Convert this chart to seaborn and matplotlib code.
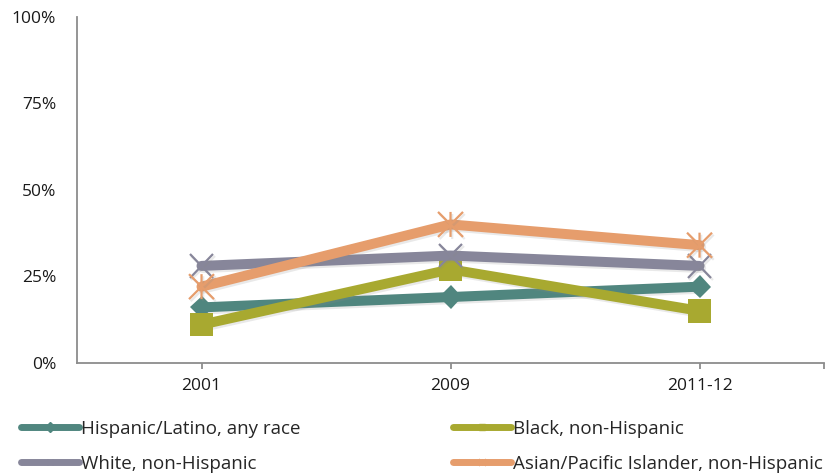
import matplotlib
matplotlib.use("Agg")
import matplotlib.pyplot as plt
import matplotlib.patheffects as pe
from matplotlib.path import Path
from matplotlib.lines import Line2D
import seaborn as sns
import pandas as pd

# Data
years = ["2001", "2009", "2011-12"]
hispanic = [16, 19, 22]
black = [11, 27, 15]
white = [28, 31, 28]
asian = [22, 40, 34]
series_names = [
    "Hispanic/Latino, any race",
    "Black, non-Hispanic",
    "White, non-Hispanic",
    "Asian/Pacific Islander, non-Hispanic",
]
y_ticks = [0, 25, 50, 75, 100]

colors = ["#50867F", "#A8A930", "#87869A", "#E69D6C"]

# Star marker: an X with a vertical bar through it
star_path = Path(
    [(-1, -1), (1, 1), (-1, 1), (1, -1), (0, -1), (0, 1)],
    [Path.MOVETO, Path.LINETO, Path.MOVETO, Path.LINETO, Path.MOVETO, Path.LINETO],
)

marker_specs = [
    dict(marker="D", markersize=12, markeredgewidth=0),
    dict(marker="s", markersize=17, markeredgewidth=0),
    dict(marker="x", markersize=17, markeredgewidth=1.6),
    dict(marker=star_path, markersize=18, markeredgewidth=1.6),
]

sns.set_theme(style="white")
plt.rcParams["font.family"] = ["Open Sans", "DejaVu Sans"]

df = pd.DataFrame({
    "year": years * 4,
    "value": hispanic + black + white + asian,
    "group": sum([[n] * len(years) for n in series_names], []),
})

fig = plt.figure(figsize=(8.29, 4.75), dpi=100)
ax = fig.add_axes([0.0929, 0.2364, 0.9011, 0.7278])

shadow = [pe.SimpleLineShadow(offset=(1.2, -1.5), shadow_color="#888888", alpha=0.18), pe.Normal()]

for name, color, spec in zip(series_names, colors, marker_specs):
    sub = df[df["group"] == name]
    sns.lineplot(data=sub, x="year", y="value", ax=ax, color=color,
                 linewidth=7.2, legend=False, sort=False)
    line = ax.lines[-1]
    line.set_marker(spec["marker"])
    line.set_markersize(spec["markersize"])
    line.set_markeredgewidth(spec["markeredgewidth"])
    line.set_markerfacecolor(color)
    line.set_markeredgecolor(color)
    line.set_path_effects(shadow)

ax.set_xlim(-0.5, 2.5)
ax.set_ylim(0, 100)
ax.set_yticks(y_ticks)
ax.set_yticklabels([f"{t}%" for t in y_ticks], fontsize=12.5, color="#1a1a1a")
ax.set_xticks(range(len(years)))
ax.set_xticklabels(years, fontsize=12.5, color="#1a1a1a")
ax.set_xticks([2.5], minor=True)
ax.set_xlabel("")
ax.set_ylabel("")

for side in ["top", "right"]:
    ax.spines[side].set_visible(False)
for side in ["left", "bottom"]:
    ax.spines[side].set_color("#8C8C8C")
    ax.spines[side].set_linewidth(1.3)

ax.tick_params(axis="y", length=0, pad=15)
ax.tick_params(axis="x", which="both", direction="out", length=4, width=1.3,
               color="#8C8C8C", bottom=True, pad=7)


def legend_handle(color, spec):
    return Line2D([], [], color=color, linewidth=5, solid_capstyle="round",
                  marker=spec["marker"], markersize=5, markeredgewidth=1,
                  markerfacecolor=color, markeredgecolor=color)


legend_kw = dict(loc="center left", frameon=False, handlelength=3.1, handletextpad=0.1,
                 fontsize=13.5, borderaxespad=0, borderpad=0)

# Legend laid out as a 2x2 grid, one entry per cell
cell_x = [21 / 829, 453 / 829]
cell_y = [1 - 429 / 475, 1 - 464 / 475]
for i, (name, color, spec) in enumerate(zip(series_names, colors, marker_specs)):
    row, col = divmod(i, 2)
    fig.legend([legend_handle(color, spec)], [name],
               bbox_to_anchor=(cell_x[col], cell_y[row]), **legend_kw)

fig.savefig("out.png", dpi=100)
